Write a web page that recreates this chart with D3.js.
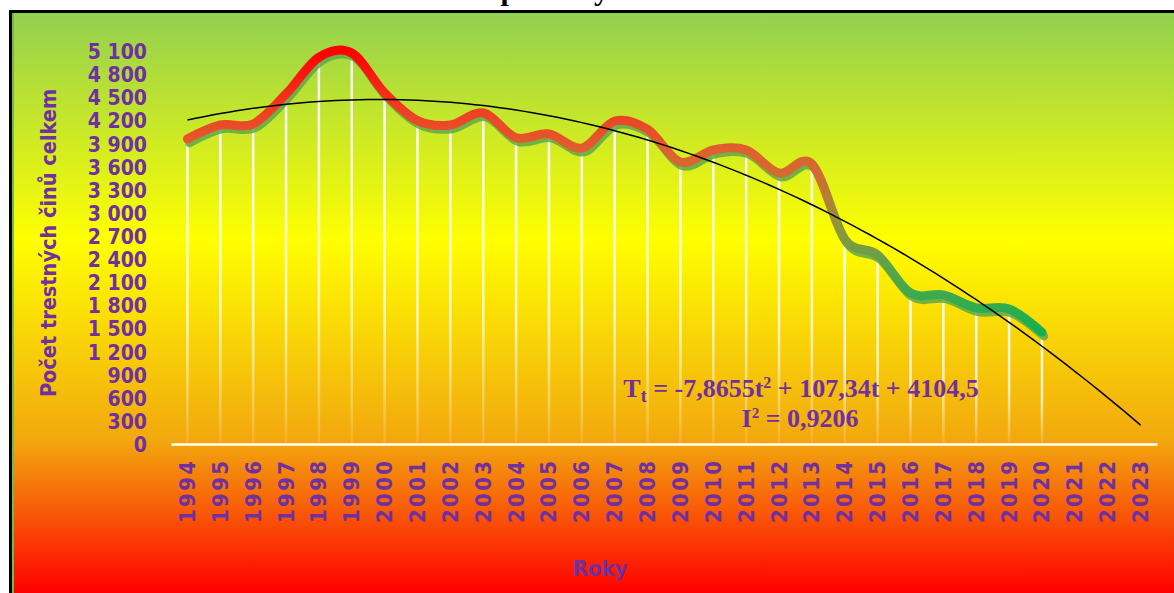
<!DOCTYPE html>
<html>
<head>
<meta charset="utf-8">
<script src="https://cdn.jsdelivr.net/npm/d3@7"></script>
<style>
  html, body { margin: 0; padding: 0; background: #ffffff; }
  svg { display: block; }
</style>
</head>
<body>
<svg id="chart" width="1174" height="593"></svg>
<script>
// ---- data ----
const years = ["1994","1995","1996","1997","1998","1999","2000","2001","2002","2003",
  "2004","2005","2006","2007","2008","2009","2010","2011","2012","2013",
  "2014","2015","2016","2017","2018","2019","2020","2021","2022","2023"];
const crimes = [3958, 4140, 4153, 4542, 5018, 5074, 4555, 4196, 4140, 4295,
  3975, 4023, 3840, 4191, 4083, 3659, 3815, 3815, 3517, 3634,
  2660, 2453, 1960, 1934, 1767, 1752, 1450];
const yTicks = [0, 300, 600, 900, 1200, 1500, 1800, 2100, 2400, 2700, 3000,
  3300, 3600, 3900, 4200, 4500, 4800, 5100];
// trendline shown on chart: Tt = -7,8655t^2 + 107,34t + 4104,5
const trendCoef = [-7.8655, 107.34, 4104.5];
const titleText = "Celkem spáchaných TČ na území";
const yTitle = "Počet trestných činů celkem";
const xTitle = "Roky";

// ---- setup ----
const W = 1174, H = 593;
const svg = d3.select("#chart");
const defs = svg.append("defs");
const purple = "#7030A0";

// background gradient
const bg = defs.append("linearGradient").attr("id", "bgGrad")
  .attr("gradientUnits", "userSpaceOnUse").attr("x1", 0).attr("x2", 0).attr("y1", 13).attr("y2", H);
[[0, "#92d050"], [0.39, "#ffff00"], [0.736, "#f2a80e"], [1, "#ff0000"]]
  .forEach(s => bg.append("stop").attr("offset", s[0]).attr("stop-color", s[1]));

// title (mostly cut off above the frame, as in the source)
svg.append("text").attr("x", 597).attr("y", 0).attr("text-anchor", "middle")
  .attr("font-family", "Liberation Serif, Times New Roman, serif").attr("font-weight", "bold")
  .attr("font-size", 30).attr("fill", "#000").text(titleText);

// frame
svg.append("rect").attr("x", 9).attr("y", 10).attr("width", W - 9).attr("height", H - 10).attr("fill", "#000");
svg.append("rect").attr("x", 12).attr("y", 13).attr("width", W - 12).attr("height", H - 13).attr("fill", "url(#bgGrad)");
svg.append("rect").attr("x", 12).attr("y", 13).attr("width", 2).attr("height", H - 13).attr("fill", "#78b848");

// scales
const x = d3.scaleBand().domain(years).range([171, 1157]);
const xc = d => x(d) + x.bandwidth() / 2;
const y = d3.scaleLinear().domain([0, 5100]).range([444, 51]);

// y tick labels
const fmt = v => d3.format(",")(v).replace(/,/g, "\u00a0");
const yAxis = d3.axisLeft(y).tickValues(yTicks).tickFormat(fmt).tickSize(0).tickPadding(0);
const gy = svg.append("g").attr("transform", "translate(147,0)").call(yAxis);
gy.select(".domain").remove();
gy.selectAll("text").attr("fill", purple)
  .attr("font-family", "DejaVu Sans Condensed, DejaVu Sans, sans-serif")
  .attr("font-weight", "bold").attr("font-size", 21).attr("dy", "0.36em");

// x axis
const xAxis = d3.axisBottom(x).tickSize(0).tickPadding(0);
const gx = svg.append("g").attr("transform", "translate(0,444)").call(xAxis);
gx.select(".domain").attr("stroke", "#ffffff").attr("stroke-width", 2.5);
gx.selectAll("text")
  .attr("fill", purple)
  .attr("font-family", "DejaVu Sans Condensed, DejaVu Sans, sans-serif")
  .attr("font-weight", "bold").attr("font-size", 22).attr("letter-spacing", 2.3)
  .attr("text-anchor", "start").attr("dy", null).attr("y", 0)
  .attr("dominant-baseline", "central")
  .attr("transform", "translate(0,79) rotate(-90)");

// axis titles
svg.append("text").attr("transform", "translate(48,243) rotate(-90)")
  .attr("text-anchor", "middle").attr("dominant-baseline", "central")
  .attr("fill", purple).attr("font-family", "DejaVu Sans Condensed, DejaVu Sans, sans-serif")
  .attr("font-weight", "bold").attr("font-size", 21.5).text(yTitle);
svg.append("text").attr("x", 600).attr("y", 576).attr("text-anchor", "middle")
  .attr("fill", purple).attr("font-family", "DejaVu Sans Condensed, DejaVu Sans, sans-serif")
  .attr("font-weight", "bold").attr("font-size", 22).text(xTitle);

// drop lines
const dg = defs.append("linearGradient").attr("id", "dropGrad")
  .attr("x1", 0).attr("x2", 0).attr("y1", 0).attr("y2", 1);
dg.append("stop").attr("offset", 0).attr("stop-color", "#fff").attr("stop-opacity", 0.95);
dg.append("stop").attr("offset", 0.6).attr("stop-color", "#fff").attr("stop-opacity", 0.75);
dg.append("stop").attr("offset", 1).attr("stop-color", "#fff").attr("stop-opacity", 0.1);
const pts = crimes.map((v, i) => ({ year: years[i], v }));
svg.append("g").selectAll("rect").data(pts).join("rect")
  .attr("x", d => xc(d.year) - 1.25).attr("width", 2.5)
  .attr("y", d => y(d.v)).attr("height", d => 444 - y(d.v))
  .attr("fill", "url(#dropGrad)");

// main line
const lg = defs.append("linearGradient").attr("id", "lineGrad")
  .attr("gradientUnits", "userSpaceOnUse").attr("x1", 0).attr("x2", 0)
  .attr("y1", y(5100)).attr("y2", y(1400));
[[0, "#ff0000"], [0.2, "#f03c22"], [0.35, "#e0602e"], [0.45, "#d06e30"], [0.62, "#8e963e"], [0.82, "#48a84c"], [1, "#10b050"]]
  .forEach(s => lg.append("stop").attr("offset", s[0]).attr("stop-color", s[1]));

const line = d3.line().x(d => xc(d.year)).y(d => y(d.v)).curve(d3.curveCardinal.tension(0));
svg.append("path").attr("d", line(pts)).attr("fill", "none")
  .attr("stroke", "#5ea84a").attr("stroke-opacity", 0.85).attr("stroke-width", 8.5)
  .attr("stroke-linecap", "round").attr("stroke-linejoin", "round")
  .attr("transform", "translate(2,4)");
svg.append("path").attr("d", line(pts)).attr("fill", "none")
  .attr("stroke", "url(#lineGrad)").attr("stroke-width", 9)
  .attr("stroke-linecap", "round").attr("stroke-linejoin", "round");

// trendline from the chart's equation
const tx0 = xc(years[0]), step = x.step();
const trendPts = d3.range(1, 30.001, 0.25).map(t => [tx0 + (t - 1) * step,
  y(trendCoef[0] * t * t + trendCoef[1] * t + trendCoef[2])]);
svg.append("path").attr("d", d3.line().curve(d3.curveLinear)(trendPts))
  .attr("fill", "none").attr("stroke", "#000").attr("stroke-width", 1.5);

// equation
const eq = svg.append("text").attr("x", 801).attr("y", 397).attr("text-anchor", "middle")
  .attr("fill", purple).attr("font-family", "Liberation Serif, Times New Roman, serif")
  .attr("font-weight", "bold").attr("font-size", 26);
eq.append("tspan").text("T");
eq.append("tspan").attr("font-size", 18).attr("dy", 5).text("t");
eq.append("tspan").attr("dy", -5).text(" = -7,8655t");
eq.append("tspan").attr("font-size", 16).attr("dy", -9).text("2");
eq.append("tspan").attr("dy", 9).text(" + 107,34t + 4104,5");
const r2 = svg.append("text").attr("x", 800).attr("y", 427).attr("text-anchor", "middle")
  .attr("fill", purple).attr("font-family", "Liberation Serif, Times New Roman, serif")
  .attr("font-weight", "bold").attr("font-size", 26);
r2.append("tspan").text("I");
r2.append("tspan").attr("font-size", 15).attr("dy", -9).text("2");
r2.append("tspan").attr("dy", 9).text(" = 0,9206");
</script>
</body>
</html>
